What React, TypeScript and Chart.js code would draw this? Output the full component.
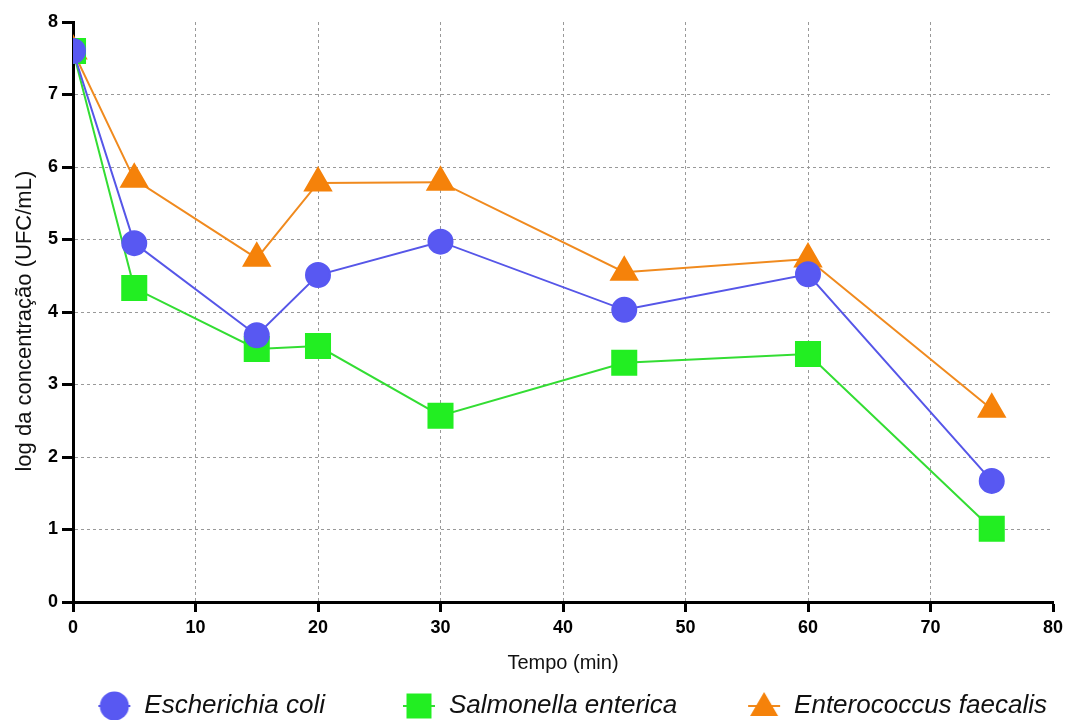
import React, { useEffect, useRef } from "react";
import { Chart, registerables } from "chart.js";

Chart.register(...registerables);

const times = [0, 5, 15, 20, 30, 45, 60, 75];
const ecoli = [7.6, 4.95, 3.68, 4.51, 4.97, 4.03, 4.52, 1.67];
const salmonella = [7.6, 4.33, 3.49, 3.53, 2.57, 3.3, 3.42, 1.01];
const enterococcus = [7.6, 5.83, 4.74, 5.78, 5.79, 4.55, 4.73, 2.66];
const seriesNames = ["Escherichia coli", "Salmonella enterica", "Enterococcus faecalis"];
const xTicks = [0, 10, 20, 30, 40, 50, 60, 70, 80];
const yTicks = [0, 1, 2, 3, 4, 5, 6, 7, 8];

const toXY = (ys: number[]) => times.map((t, i) => ({ x: t, y: ys[i] }));

function legendMarker(kind: string, fill: string, line: string) {
  const c = document.createElement("canvas");
  c.width = 34;
  c.height = 32;
  const g = c.getContext("2d")!;
  const cx = 17;
  const cy = 16;
  g.strokeStyle = line;
  g.lineWidth = 2;
  g.beginPath();
  g.moveTo(cx - 16, cy);
  g.lineTo(cx + 16, cy);
  g.stroke();
  g.fillStyle = fill;
  g.beginPath();
  if (kind === "circle") {
    g.arc(cx, cy, 14.5, 0, Math.PI * 2);
  } else if (kind === "rect") {
    g.rect(cx - 12.5, cy - 12.5, 25, 25);
  } else {
    g.moveTo(cx, cy - 14);
    g.lineTo(cx + 14, cy + 10);
    g.lineTo(cx - 14, cy + 10);
    g.closePath();
  }
  g.fill();
  return c;
}

export default function App() {
  const ref = useRef<HTMLCanvasElement | null>(null);
  useEffect(() => {
    if (!ref.current) return;
    const font = "'Liberation Sans', Arial, sans-serif";
    const markers = [
      legendMarker("circle", "#5858F2", "#5656E8"),
      legendMarker("rect", "#22EE22", "#33DD33"),
      legendMarker("triangle", "#F5820A", "#F08A1E"),
    ];
    const gridColor = (edge: number) => (ctx: any) =>
      ctx.tick && (ctx.tick.value === 0 || ctx.tick.value === edge) ? "rgba(0,0,0,0)" : "#999";
    const chart = new Chart(ref.current, {
      type: "line",
      data: {
        datasets: [
          {
            label: seriesNames[0],
            data: toXY(ecoli),
            borderColor: "#5656E8",
            backgroundColor: "#5858F2",
            pointBackgroundColor: "#5858F2",
            pointBorderColor: "#5858F2",
            pointStyle: "circle",
            pointRadius: 12,
            borderWidth: 2,
          },
          {
            label: seriesNames[1],
            data: toXY(salmonella),
            borderColor: "#33DD33",
            backgroundColor: "#22EE22",
            pointBackgroundColor: "#22EE22",
            pointBorderColor: "#22EE22",
            pointStyle: "rect",
            pointRadius: 17,
            borderWidth: 2,
          },
          {
            label: seriesNames[2],
            data: toXY(enterococcus),
            borderColor: "#F08A1E",
            backgroundColor: "#F5820A",
            pointBackgroundColor: "#F5820A",
            pointBorderColor: "#F5820A",
            pointStyle: "triangle",
            pointRadius: 15,
            borderWidth: 2,
          },
        ],
      },
      options: {
        animation: false,
        responsive: true,
        maintainAspectRatio: false,
        layout: { autoPadding: false, padding: { left: 0, right: 7, top: 22, bottom: -9 } },
        plugins: {
          tooltip: { enabled: false },
          legend: {
            position: "bottom",
            align: "end",
            labels: {
              usePointStyle: true,
              pointStyleWidth: 34,
              padding: 12,
              color: "#111",
              font: { family: font, size: 26, style: "italic" },
              generateLabels: (c: any) => {
                const items = Chart.defaults.plugins.legend.labels.generateLabels(c);
                const pads = ["         ", "        ", ""];
                return items.map((it: any, i: number) => ({
                  ...it,
                  text: it.text + pads[i],
                  pointStyle: markers[i],
                }));
              },
            },
          },
        },
        scales: {
          x: {
            type: "linear",
            min: 0,
            max: 80,
            afterBuildTicks: (s: any) => {
              s.ticks = xTicks.map((v) => ({ value: v }));
            },
            afterFit: (s: any) => {
              s.height = 79;
              s.paddingRight = 13;
            },
            border: { color: "#000", width: 3, dash: [3, 3] },
            grid: {
              color: gridColor(80),
              lineWidth: 1,
              tickBorderDash: [],
              tickColor: "#000",
              tickWidth: 3,
              tickLength: 10,
            },
            ticks: {
              color: "#000",
              padding: 5,
              font: { family: font, size: 18, weight: "bold" },
            },
            title: {
              display: true,
              text: "Tempo (min)",
              color: "#111",
              padding: { top: 4, bottom: 6 },
              font: { family: font, size: 20 },
            },
          },
          y: {
            min: 0,
            max: 8,
            afterBuildTicks: (s: any) => {
              s.ticks = yTicks.map((v) => ({ value: v }));
            },
            afterFit: (s: any) => {
              s.width = 73;
            },
            border: { color: "#000", width: 3, dash: [3, 3] },
            grid: {
              color: gridColor(8),
              lineWidth: 1,
              tickBorderDash: [],
              tickColor: "#000",
              tickWidth: 3,
              tickLength: 11,
            },
            ticks: {
              color: "#000",
              padding: 4,
              font: { family: font, size: 18, weight: "bold" },
            },
            title: {
              display: true,
              text: "log da concentração (UFC/mL)   ",
              color: "#111",
              padding: { top: 12, bottom: 4 },
              font: { family: font, size: 22 },
            },
          },
        },
      },
    });
    return () => chart.destroy();
  }, []);
  return (
    <div style={{ position: "absolute", left: 0, top: 0, width: 1066, height: 720, background: "#fff" }}>
      <canvas ref={ref} />
    </div>
  );
}
